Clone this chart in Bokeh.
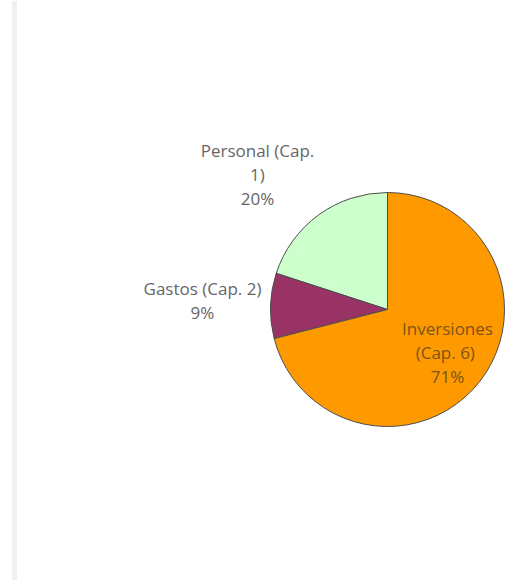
import math
from bokeh.plotting import figure
from bokeh.models import ColumnDataSource, Range1d, Span
from bokeh.core.properties import value
from bokeh.embed import file_html
from bokeh.resources import INLINE

# --- data ---
categories = ["Personal (Cap. 1)", "Gastos (Cap. 2)", "Inversiones (Cap. 6)"]
shares = [20, 9, 71]
colors = ["#CCFFCC", "#993366", "#FF9900"]
label_texts = ["Personal (Cap.\n1)\n20%", "Gastos (Cap. 2)\n9%", "Inversiones\n(Cap.  6)\n71%"]

W, H = 509, 580
p = figure(width=W, height=H, output_backend="svg", toolbar_location=None,
           x_range=Range1d(0, W), y_range=Range1d(0, H), min_border=0)
p.axis.visible = False
p.grid.visible = False
p.outline_line_color = None
p.background_fill_color = "white"

# faint left border line seen in the reference
p.add_layout(Span(location=14, dimension="height", line_color="#f1f1f1", line_width=5))

cx, cy, r = 387, H - 309, 117
total = float(sum(shares))
starts, ends = [], []
a = math.pi / 2
for s in shares:
    starts.append(a)
    a += s / total * 2 * math.pi
    ends.append(a)

src = ColumnDataSource(dict(cat=categories, start=starts, end=ends, color=colors))
p.wedge(x=cx, y=cy, radius=r, start_angle="start", end_angle="end",
        fill_color="color", line_color="#4d4d4d", line_width=1, source=src)

# label anchors (layout positions, in pixels)
lx = [257, 202, 447]
ly = [H - 174, H - 300, H - 352]
lcol = ["#666666", "#666666", "#7a5418"]
lsrc = ColumnDataSource(dict(x=lx, y=ly, t=label_texts, c=lcol))
p.text(x="x", y="y", text="t", text_color="c", source=lsrc,
       text_font=value("Open Sans"), text_font_size="17px",
       text_align="center", text_baseline="middle", text_line_height=1.05)

open("out.html", "w").write(file_html(p, INLINE))
